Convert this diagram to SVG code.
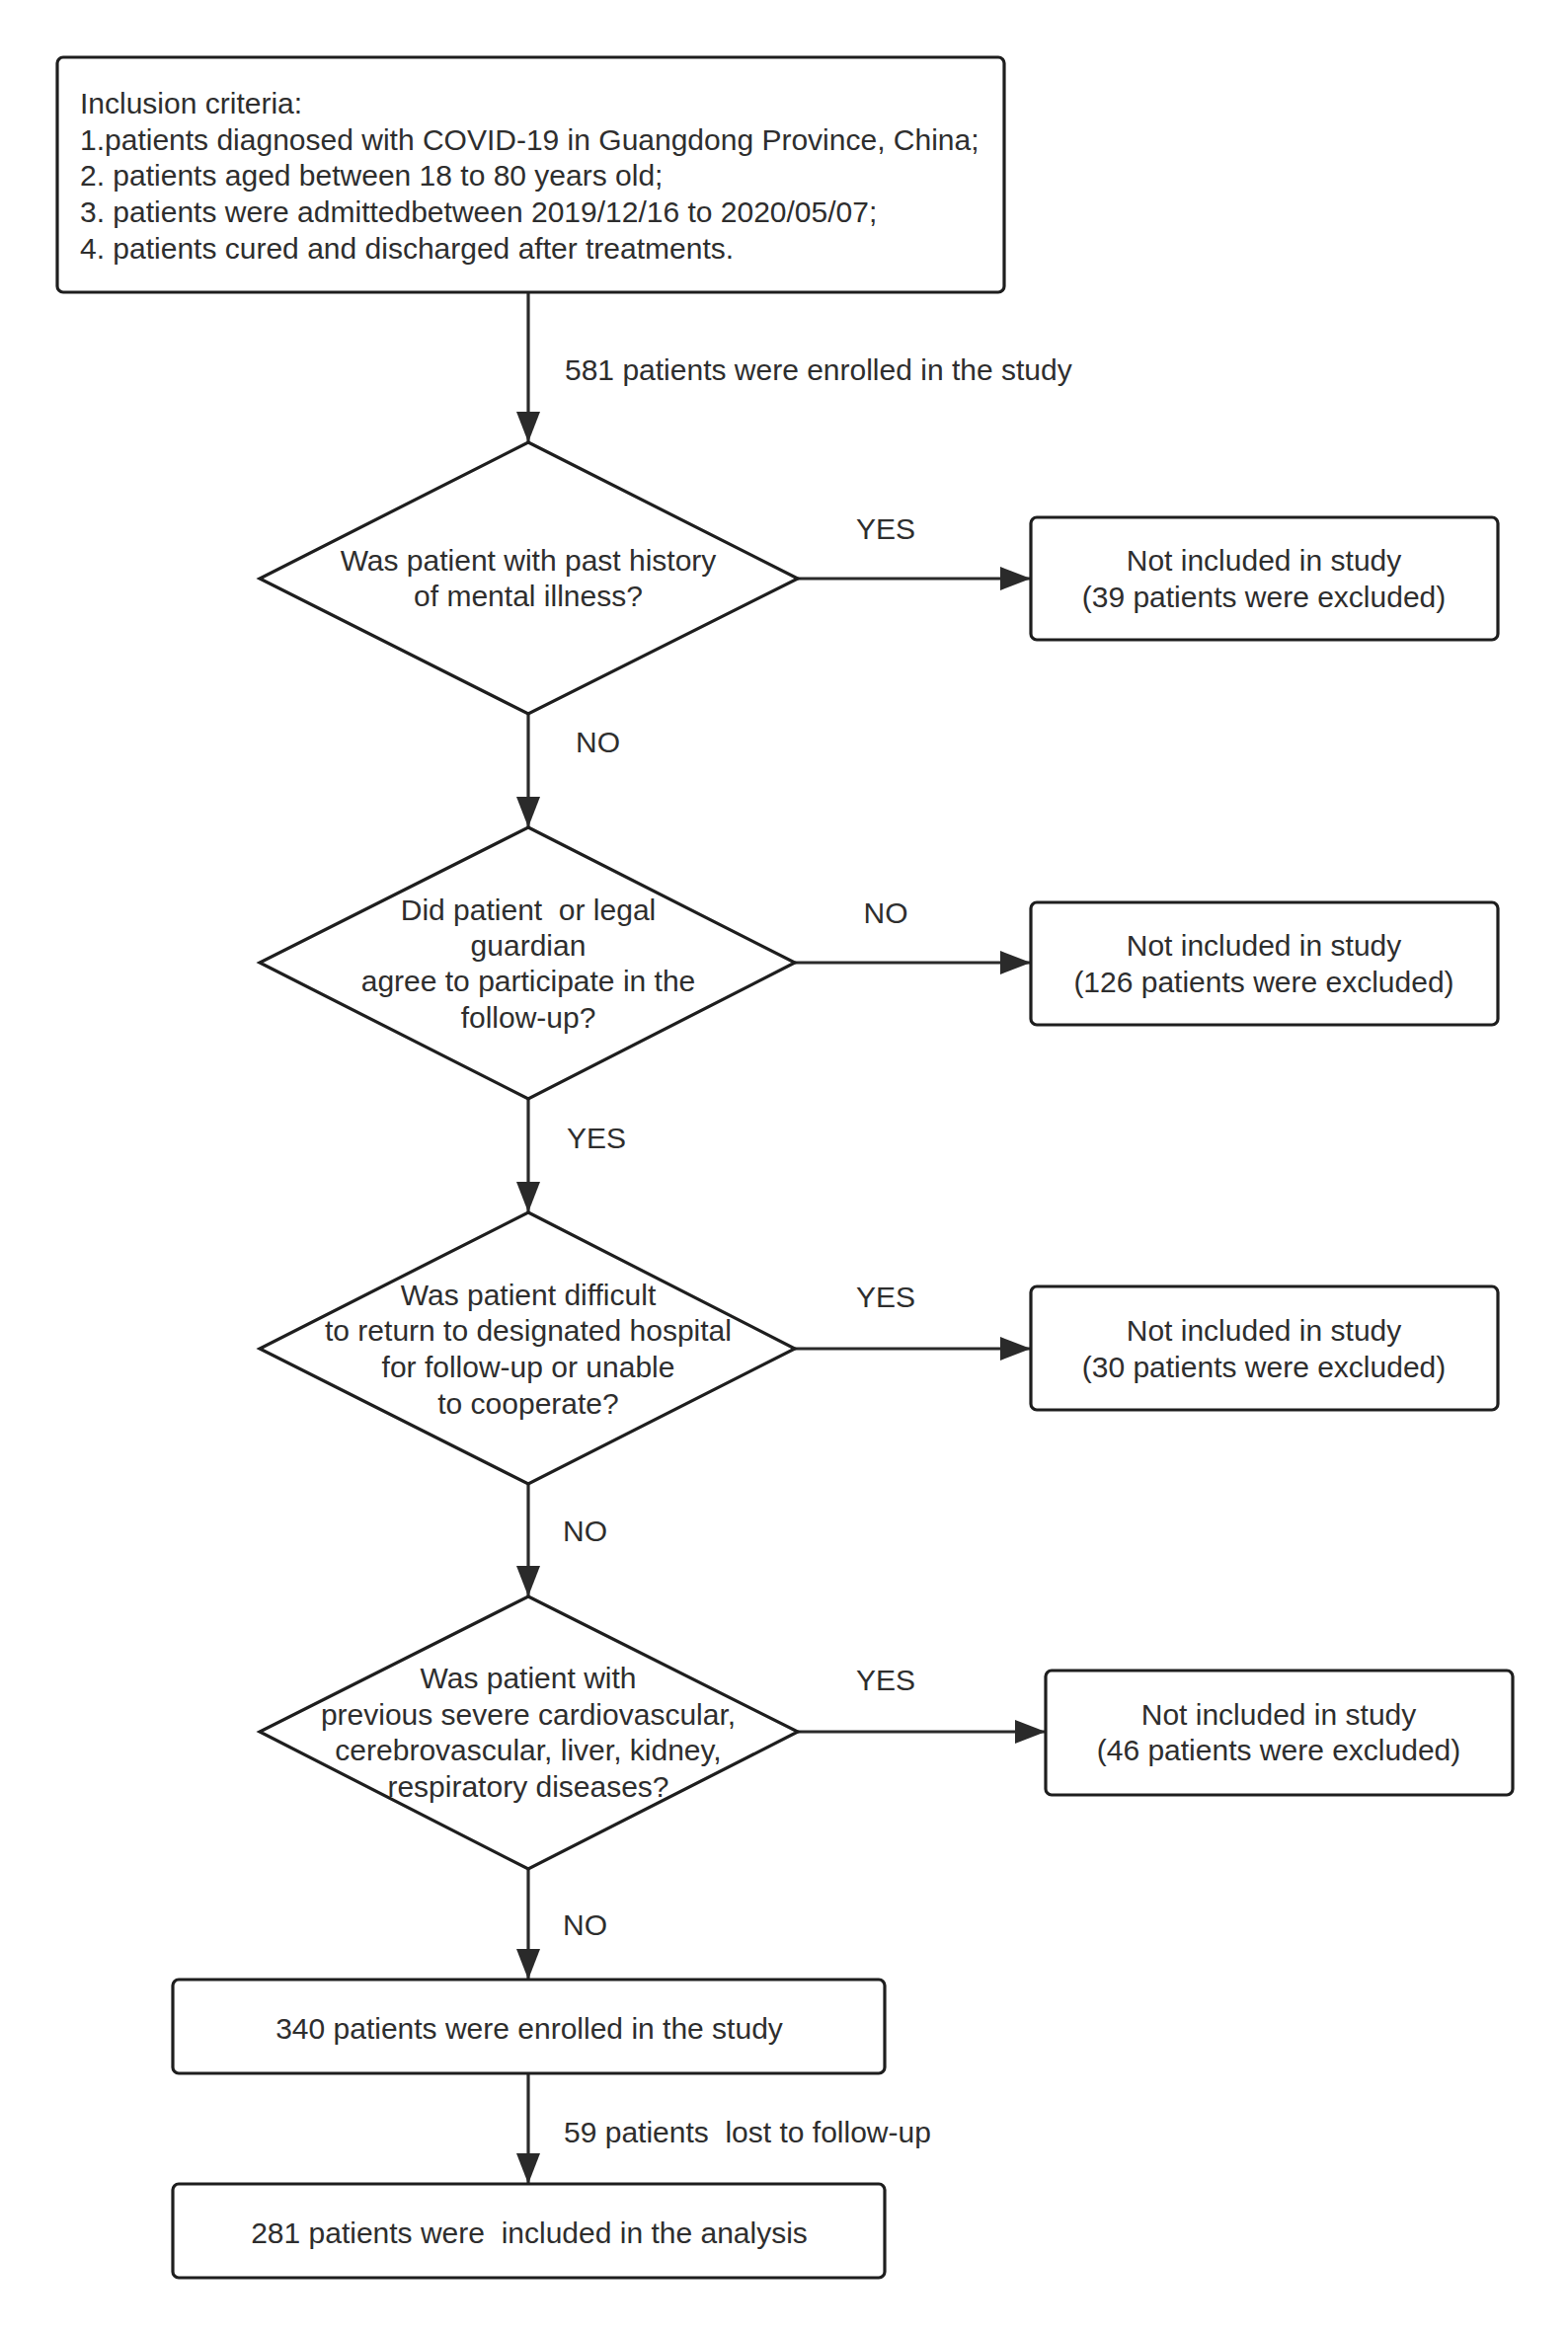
<svg xmlns="http://www.w3.org/2000/svg" width="1588" height="2363" viewBox="0 0 1588 2363">
<style>
.bg{fill:#ffffff}
.box{fill:#ffffff;stroke:#1e1e1e;stroke-width:3.2}
.dia{fill:#ffffff;stroke:#1e1e1e;stroke-width:3.2}
.ln{fill:none;stroke:#2a2a2a;stroke-width:3.2}
text{font-family:"Liberation Sans",Arial,sans-serif;font-size:30px;fill:#2e2e2e;white-space:pre}
.c{text-anchor:middle}
</style>
<defs>
<marker id="ah" markerUnits="userSpaceOnUse" markerWidth="32" markerHeight="24" refX="31" refY="12" orient="auto">
<path d="M0,0 L31,12 L0,24 Z" fill="#2a2a2a"/>
</marker>
</defs>
<rect class="bg" x="0" y="0" width="1588" height="2363"/>

<g id="connectors">
<line class="ln" x1="535" y1="297" x2="535" y2="448" marker-end="url(#ah)"/>
<text x="572" y="385">581 patients were enrolled in the study</text>
<line class="ln" x1="535" y1="723" x2="535" y2="838" marker-end="url(#ah)"/>
<text x="583" y="762">NO</text>
<line class="ln" x1="535" y1="1113" x2="535" y2="1228" marker-end="url(#ah)"/>
<text x="574" y="1163">YES</text>
<line class="ln" x1="535" y1="1503" x2="535" y2="1617" marker-end="url(#ah)"/>
<text x="570" y="1561">NO</text>
<line class="ln" x1="535" y1="1893" x2="535" y2="2005" marker-end="url(#ah)"/>
<text x="570" y="1960">NO</text>
<line class="ln" x1="535" y1="2100" x2="535" y2="2212" marker-end="url(#ah)"/>
<text x="571" y="2170" xml:space="preserve">59 patients  lost to follow-up</text>
<line class="ln" x1="808" y1="586" x2="1044" y2="586" marker-end="url(#ah)"/>
<text class="c" x="897" y="546">YES</text>
<line class="ln" x1="805" y1="975" x2="1044" y2="975" marker-end="url(#ah)"/>
<text class="c" x="897" y="935">NO</text>
<line class="ln" x1="805" y1="1366" x2="1044" y2="1366" marker-end="url(#ah)"/>
<text class="c" x="897" y="1324">YES</text>
<line class="ln" x1="808" y1="1754" x2="1059" y2="1754" marker-end="url(#ah)"/>
<text class="c" x="897" y="1712">YES</text>
</g>

<g id="inclusion">
<rect class="box" x="58" y="58" width="959" height="238" rx="6"/>
<text x="81" y="115">Inclusion criteria:</text>
<text x="81" y="152">1.patients diagnosed with COVID-19 in Guangdong Province, China;</text>
<text x="81" y="188">2. patients aged between 18 to 80 years old;</text>
<text x="81" y="225">3. patients were admittedbetween 2019/12/16 to 2020/05/07;</text>
<text x="81" y="262">4. patients cured and discharged after treatments.</text>
</g>

<g id="q1">
<polygon class="dia" points="535,448 808,586 535,723 263,586"/>
<text class="c" x="535" y="578">Was patient with past history</text>
<text class="c" x="535" y="614">of mental illness?</text>
</g>
<g id="ex1">
<rect class="box" x="1044" y="524" width="473" height="124" rx="6"/>
<text class="c" x="1280" y="578">Not included in study</text>
<text class="c" x="1280" y="615">(39 patients were excluded)</text>
</g>

<g id="q2">
<polygon class="dia" points="535,838 805,975 535,1113 263,975"/>
<text class="c" x="535" y="932" xml:space="preserve">Did patient  or legal</text>
<text class="c" x="535" y="968">guardian</text>
<text class="c" x="535" y="1004">agree to participate in the</text>
<text class="c" x="535" y="1041">follow-up?</text>
</g>
<g id="ex2">
<rect class="box" x="1044" y="914" width="473" height="124" rx="6"/>
<text class="c" x="1280" y="968">Not included in study</text>
<text class="c" x="1280" y="1005">(126 patients were excluded)</text>
</g>

<g id="q3">
<polygon class="dia" points="535,1228 805,1366 535,1503 263,1366"/>
<text class="c" x="535" y="1322">Was patient difficult</text>
<text class="c" x="535" y="1358">to return to designated hospital</text>
<text class="c" x="535" y="1395">for follow-up or unable</text>
<text class="c" x="535" y="1432">to cooperate?</text>
</g>
<g id="ex3">
<rect class="box" x="1044" y="1303" width="473" height="125" rx="6"/>
<text class="c" x="1280" y="1358">Not included in study</text>
<text class="c" x="1280" y="1395">(30 patients were excluded)</text>
</g>

<g id="q4">
<polygon class="dia" points="535,1617 808,1754 535,1893 263,1754"/>
<text class="c" x="535" y="1710">Was patient with</text>
<text class="c" x="535" y="1747">previous severe cardiovascular,</text>
<text class="c" x="535" y="1783">cerebrovascular, liver, kidney,</text>
<text class="c" x="535" y="1820">respiratory diseases?</text>
</g>
<g id="ex4">
<rect class="box" x="1059" y="1692" width="473" height="126" rx="6"/>
<text class="c" x="1295" y="1747">Not included in study</text>
<text class="c" x="1295" y="1783">(46 patients were excluded)</text>
</g>

<g id="enrolled">
<rect class="box" x="175" y="2005" width="721" height="95" rx="6"/>
<text class="c" x="536" y="2065">340 patients were enrolled in the study</text>
</g>
<g id="analysis">
<rect class="box" x="175" y="2212" width="721" height="95" rx="6"/>
<text class="c" x="536" y="2272" xml:space="preserve">281 patients were  included in the analysis</text>
</g>
</svg>
